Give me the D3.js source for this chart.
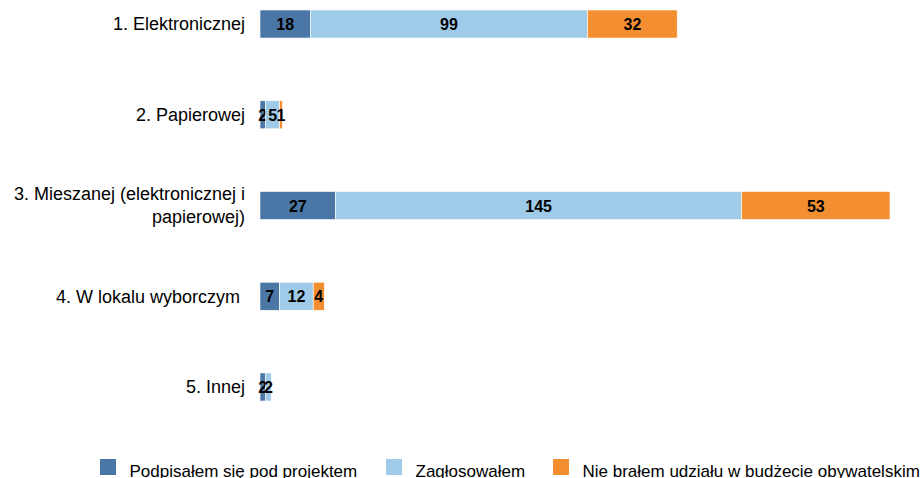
<!DOCTYPE html>
<html>
<head>
<meta charset="utf-8">
<script src="https://cdnjs.cloudflare.com/ajax/libs/d3/7.8.5/d3.min.js"></script>
<style>
  body { margin: 0; background: #ffffff; }
  text { font-family: "Liberation Sans", Arial, sans-serif; }
</style>
</head>
<body>
<div id="vis"></div>
<script>
var w = 920;
var h = 478;

// data
var categories = [
  ['1. Elektronicznej'],
  ['2. Papierowej'],
  ['3. Mieszanej (elektronicznej i', 'papierowej)'],
  ['4. W lokalu wyborczym '],
  ['5. Innej']
];
var seriesNames = ['Podpisałem się pod projektem', 'Zagłosowałem', 'Nie brałem udziału w budżecie obywatelskim'];
var podpisalem = [18, 2, 27, 7, 2];
var zaglosowalem = [99, 5, 145, 12, 2];
var nieBralem = [32, 1, 53, 4, 0];
var colors = ['#4a77a5', '#9fcae8', '#f38f30'];

var svg = d3.select('#vis')
  .append('svg')
    .attr('width', w)
    .attr('height', h);

var x = d3.scaleLinear()
  .domain([0, 225])
  .range([260, 890]);

var y = d3.scaleBand()
  .domain(d3.range(categories.length))
  .range([10, 401])
  .paddingInner(0.691)
  .paddingOuter(0);

var rows = categories.map(function(c, i) {
  return { i: i, a: podpisalem[i], b: zaglosowalem[i], c: nieBralem[i] };
});
var stack = d3.stack().keys(['a', 'b', 'c'])(rows);

var layers = svg.selectAll('g.layer')
  .data(stack)
  .enter()
  .append('g')
    .attr('class', 'layer')
    .style('fill', function(d, i) { return colors[i]; });

layers.selectAll('rect')
  .data(function(d) { return d.filter(function(p) { return p[1] > p[0]; }); })
  .enter()
  .append('rect')
    .attr('x', function(d) { return x(d[0]); })
    .attr('y', function(d) { return y(d.data.i); })
    .attr('width', function(d) { return x(d[1]) - x(d[0]); })
    .attr('height', y.bandwidth())
    .style('stroke', '#ffffff')
    .style('stroke-width', 0.6);

// value labels
layers.selectAll('text')
  .data(function(d) { return d.filter(function(p) { return p[1] > p[0]; }); })
  .enter()
  .append('text')
    .attr('x', function(d) { return (x(d[0]) + x(d[1])) / 2; })
    .attr('y', function(d) { return y(d.data.i) + y.bandwidth() / 2; })
    .attr('dy', '0.38em')
    .attr('text-anchor', 'middle')
    .style('fill', '#000000')
    .style('font-weight', 'bold')
    .style('font-size', '16px')
    .text(function(d) { return d[1] - d[0]; });

// category labels
var cat = svg.selectAll('text.cat')
  .data(categories)
  .enter()
  .append('text')
    .attr('class', 'cat')
    .attr('text-anchor', 'end')
    .attr('x', 245)
    .attr('y', function(d, i) {
      return y(i) + y.bandwidth() / 2 - (d.length - 1) * 11.5;
    })
    .style('font-size', '18px')
    .style('fill', '#000000')
    .style('white-space', 'pre');

cat.selectAll('tspan')
  .data(function(d) { return d; })
  .enter()
  .append('tspan')
    .attr('x', 245)
    .attr('dy', function(d, j) { return j === 0 ? '0.36em' : '23px'; })
    .text(function(d) { return d; });

// legend
var legendX = [100, 386, 553];
var legend = svg.selectAll('g.legend')
  .data(seriesNames)
  .enter()
  .append('g')
    .attr('class', 'legend')
    .attr('transform', function(d, i) { return 'translate(' + legendX[i] + ',459)'; });

legend.append('rect')
  .attr('width', 16)
  .attr('height', 16)
  .style('fill', function(d, i) { return colors[i]; });

legend.append('text')
  .attr('x', 29.5)
  .attr('y', 18)
  .style('font-size', '17px')
  .style('fill', '#000000')
  .text(function(d) { return d; });
</script>
</body>
</html>
